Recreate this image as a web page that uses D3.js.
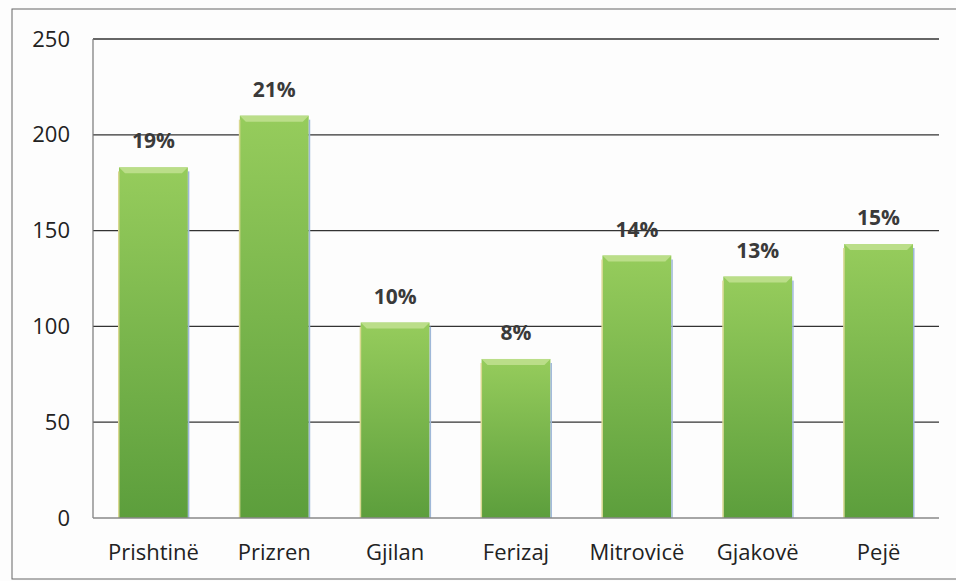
<!DOCTYPE html>
<html>
<head>
<meta charset="utf-8">
<script src="https://cdn.jsdelivr.net/npm/d3@7"></script>
<style>
  html, body { margin: 0; padding: 0; background: #fdfdfd; }
  svg { display: block; }
  text { font-family: "Open Sans", "DejaVu Sans", sans-serif; }
</style>
</head>
<body>
<div id="chart"></div>
<script>
const categories = ["Prishtinë", "Prizren", "Gjilan", "Ferizaj", "Mitrovicë", "Gjakovë", "Pejë"];
const values = [183, 210, 102, 83, 137, 126, 143];
const percentLabels = ["19%", "21%", "10%", "8%", "14%", "13%", "15%"];
const yTicks = [0, 50, 100, 150, 200, 250];

const W = 956, H = 581;
const margin = { left: 93, right: 17, top: 39, bottom: 63 };

const svg = d3.select("#chart").append("svg").attr("width", W).attr("height", H);

const defs = svg.append("defs");
const grad = defs.append("linearGradient").attr("id", "barGrad")
  .attr("x1", 0).attr("y1", 0).attr("x2", 0).attr("y2", 1);
grad.append("stop").attr("offset", "0%").attr("stop-color", "#96cc5c");
grad.append("stop").attr("offset", "100%").attr("stop-color", "#5c9e3c");

// outer frame
svg.append("rect").attr("x", 12).attr("y", 9).attr("width", 960).attr("height", 570)
  .attr("fill", "none").attr("stroke", "#666").attr("stroke-width", 1);

const x = d3.scaleBand().domain(categories)
  .range([margin.left, W - margin.right]).paddingInner(0.43).paddingOuter(0.215);
const y = d3.scaleLinear().domain([0, 250]).range([H - margin.bottom, margin.top]);

// gridlines
svg.append("g").selectAll("line").data(yTicks.filter(d => d > 0)).join("line")
  .attr("x1", margin.left).attr("x2", W - margin.right)
  .attr("y1", d => y(d)).attr("y2", d => y(d))
  .attr("stroke", "#333").attr("stroke-width", 1.3);

// left axis line
svg.append("line").attr("x1", margin.left).attr("x2", margin.left)
  .attr("y1", y(250)).attr("y2", y(0)).attr("stroke", "#777").attr("stroke-width", 1.2);

// y axis labels
const yAxis = d3.axisLeft(y).tickValues(yTicks).tickSize(0).tickPadding(23);
const yg = svg.append("g").attr("transform", `translate(${margin.left},0)`).call(yAxis);
yg.select(".domain").remove();
yg.selectAll("text").attr("font-size", 22).attr("fill", "#222")
  .attr("font-family", "'Open Sans', sans-serif");

// bars
const bars = svg.append("g").selectAll("g").data(values).join("g");
bars.append("rect")
  .attr("x", (d, i) => x(categories[i]))
  .attr("y", d => y(d))
  .attr("width", x.bandwidth())
  .attr("height", d => y(0) - y(d))
  .attr("fill", "url(#barGrad)");
// left yellowish edge & right bluish edge
bars.append("rect")
  .attr("x", (d, i) => x(categories[i]) - 1)
  .attr("y", d => y(d) + 4)
  .attr("width", 1.5)
  .attr("height", d => y(0) - y(d) - 4)
  .attr("fill", "#d8d890");
bars.append("rect")
  .attr("x", (d, i) => x(categories[i]) + x.bandwidth())
  .attr("y", d => y(d) + 4)
  .attr("width", 1.5)
  .attr("height", d => y(0) - y(d) - 4)
  .attr("fill", "#9fb8d8");
// top bevel
bars.append("path")
  .attr("d", (d, i) => {
    const x0 = x(categories[i]), x1 = x0 + x.bandwidth(), t = y(d);
    return `M${x0},${t} L${x1},${t} L${x1 - 6},${t + 6} L${x0 + 6},${t + 6} Z`;
  })
  .attr("fill", "#bfe08e").attr("opacity", 0.9);

// bottom axis
svg.append("line").attr("x1", margin.left).attr("x2", W - margin.right)
  .attr("y1", y(0)).attr("y2", y(0)).attr("stroke", "#888").attr("stroke-width", 1.3);

// category labels
const xAxis = d3.axisBottom(x).tickSize(0).tickPadding(26);
const xg = svg.append("g").attr("transform", `translate(0,${y(0)})`).call(xAxis);
xg.select(".domain").remove();
xg.selectAll("text").attr("font-size", 22).attr("fill", "#222")
  .attr("font-family", "'Open Sans', sans-serif");

// value labels
svg.append("g").selectAll("text").data(values).join("text")
  .attr("x", (d, i) => x(categories[i]) + x.bandwidth() / 2)
  .attr("y", d => y(d) - 19)
  .attr("text-anchor", "middle")
  .attr("font-size", 21).attr("font-weight", "bold").attr("fill", "#3a3a3a")
  .text((d, i) => percentLabels[i]);
</script>
</body>
</html>
